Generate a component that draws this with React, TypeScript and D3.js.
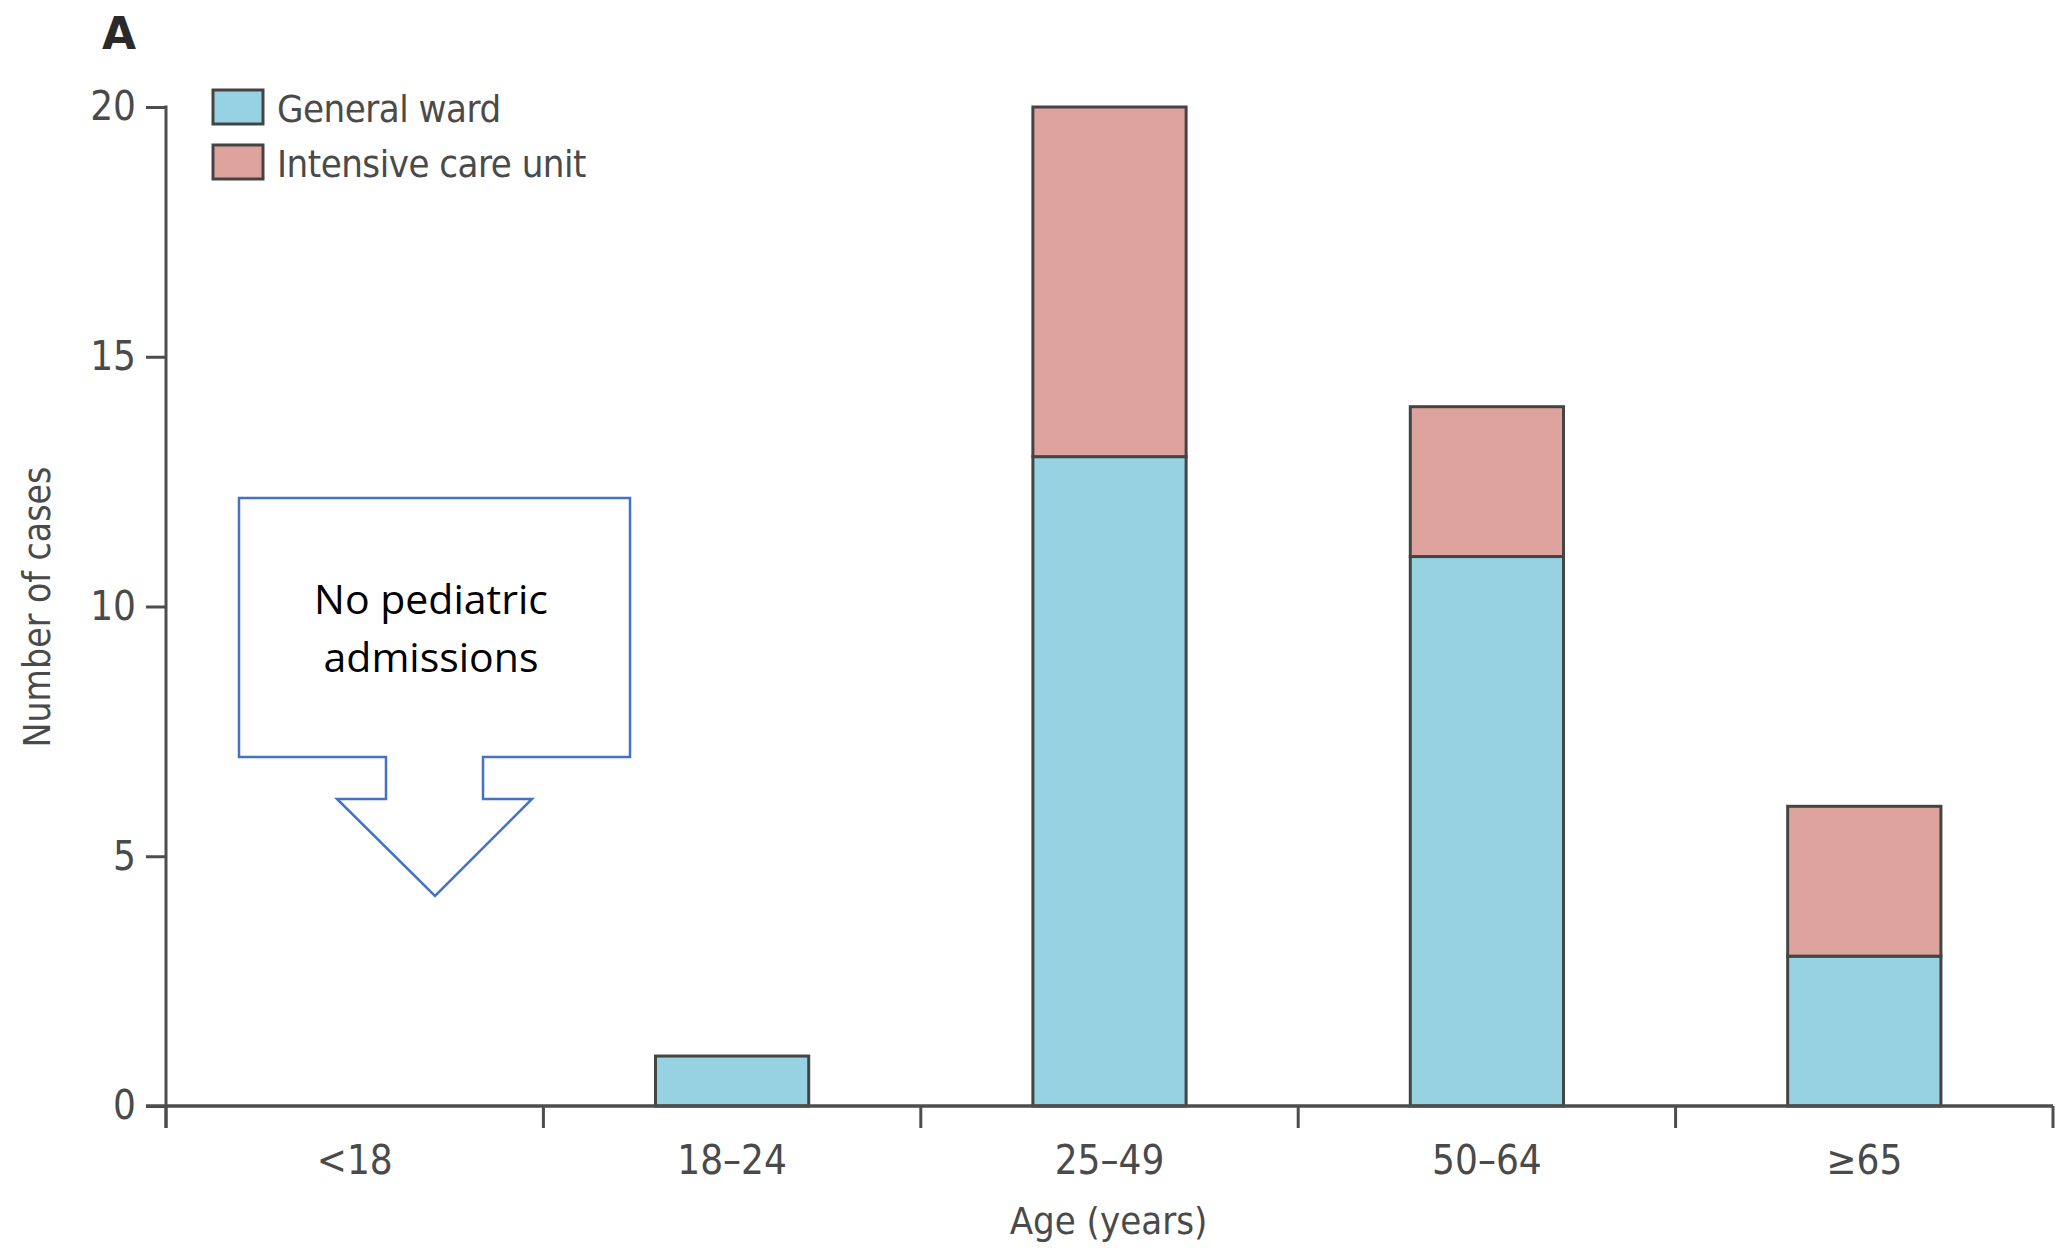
import { useEffect, useRef } from 'react';
import * as d3 from 'd3';

const ageGroups = ['<18', '18–24', '25–49', '50–64', '≥65'];
const generalWard = [0, 1, 13, 11, 3];
const intensiveCare = [0, 0, 7, 3, 3];
const yTicks = [0, 5, 10, 15, 20];
const seriesNames = ['General ward', 'Intensive care unit'];
const seriesColors = ['#96d2e2', '#dea39d'];

const FONT = '"Liberation Sans Narrow", "DejaVu Sans Condensed", "DejaVu Sans", sans-serif';

export default function App() {
  const svgRef = useRef<SVGSVGElement>(null);

  useEffect(() => {
    const svg = d3.select(svgRef.current);
    svg.selectAll('*').remove();

    const width = 2070;
    const height = 1248;
    const margin = { top: 107, right: 17, bottom: 142, left: 166 };
    const innerWidth = width - margin.left - margin.right;
    const innerHeight = height - margin.top - margin.bottom;

    svg.append('rect').attr('width', width).attr('height', height).attr('fill', '#fff');

    const g = svg.append('g').attr('transform', `translate(${margin.left},${margin.top})`);

    const x = d3.scaleBand<string>()
      .domain(ageGroups)
      .range([0, innerWidth])
      .paddingInner(0.594)
      .paddingOuter(0.297);

    const y = d3.scaleLinear().domain([0, 20]).range([innerHeight, 0]);

    const rows = ageGroups.map((a, i) => ({ age: a, general: generalWard[i], icu: intensiveCare[i] }));
    const stacked = d3.stack<any>().keys(['general', 'icu'])(rows);

    const axisColor = '#4d4d4d';
    const textColor = '#4a4a4a';

    stacked.forEach((layer, li) => {
      g.append('g')
        .selectAll('rect')
        .data(layer.filter(d => d[1] - d[0] > 0))
        .join('rect')
        .attr('x', d => x(d.data.age)!)
        .attr('y', d => y(d[1]))
        .attr('width', x.bandwidth())
        .attr('height', d => y(d[0]) - y(d[1]))
        .attr('fill', seriesColors[li])
        .attr('stroke', '#444')
        .attr('stroke-width', 3);
    });

    // y axis
    const yAxis = g.append('g')
      .call(d3.axisLeft(y).tickValues(yTicks).tickSize(20).tickPadding(10));
    yAxis.select('.domain').remove();
    yAxis.selectAll('line').attr('stroke', axisColor).attr('stroke-width', 3);
    yAxis.selectAll('text')
      .style('font-family', FONT)
      .style('font-size', '40px')
      .attr('fill', textColor);
    g.append('line')
      .attr('x1', 0).attr('x2', 0)
      .attr('y1', y(20) - 1.5).attr('y2', innerHeight + 22)
      .attr('stroke', axisColor).attr('stroke-width', 3);

    // x axis
    g.append('line')
      .attr('x1', -20).attr('x2', innerWidth)
      .attr('y1', innerHeight).attr('y2', innerHeight)
      .attr('stroke', axisColor).attr('stroke-width', 3.5);
    const step = x.step();
    const edges = d3.range(ageGroups.length + 1).map(i => i * step);
    g.selectAll('.xtick')
      .data(edges)
      .join('line')
      .attr('class', 'xtick')
      .attr('x1', d => d).attr('x2', d => d)
      .attr('y1', innerHeight).attr('y2', innerHeight + 22)
      .attr('stroke', axisColor).attr('stroke-width', 3);
    g.selectAll('.xlabel')
      .data(ageGroups)
      .join('text')
      .attr('class', 'xlabel')
      .attr('x', d => x(d)! + x.bandwidth() / 2)
      .attr('y', innerHeight + 68)
      .attr('text-anchor', 'middle')
      .style('font-family', FONT)
      .style('font-size', '40px')
      .attr('fill', textColor)
      .text(d => d);

    svg.append('text')
      .attr('x', margin.left + innerWidth / 2 - 1)
      .attr('y', 1234)
      .attr('text-anchor', 'middle')
      .style('font-family', FONT)
      .style('font-size', '38px')
      .attr('fill', textColor)
      .text('Age (years)');

    svg.append('text')
      .attr('transform', `translate(50, ${607}) rotate(-90)`)
      .attr('text-anchor', 'middle')
      .style('font-family', FONT)
      .style('font-size', '37px')
      .attr('fill', textColor)
      .text('Number of cases');

    // panel letter
    svg.append('text')
      .attr('x', 102)
      .attr('y', 49)
      .style('font-family', '"DejaVu Sans", sans-serif')
      .style('font-weight', 'bold')
      .style('font-size', '44px')
      .attr('fill', '#2a2a2a')
      .text('A');

    // legend
    seriesNames.forEach((name, i) => {
      const ly = 90 + i * 55;
      svg.append('rect')
        .attr('x', 213).attr('y', ly)
        .attr('width', 50).attr('height', 34)
        .attr('fill', seriesColors[i])
        .attr('stroke', '#444').attr('stroke-width', 3);
      svg.append('text')
        .attr('x', 277).attr('y', ly + 32)
        .style('font-family', FONT)
        .style('font-size', '38px')
        .style('letter-spacing', '-0.5px')
        .attr('fill', textColor)
        .text(name);
    });

    // callout arrow
    const callout: [number, number][] = [
      [239, 498], [630, 498], [630, 757], [483, 757], [483, 799], [532, 799],
      [435, 896], [337, 799], [386, 799], [386, 757], [239, 757]
    ];
    svg.append('path')
      .attr('d', d3.line()(callout) + 'Z')
      .attr('fill', '#fff')
      .attr('stroke', '#4472c4')
      .attr('stroke-width', 2.5);
    ['No pediatric', 'admissions'].forEach((t, i) => {
      svg.append('text')
        .attr('x', 431)
        .attr('y', 614 + i * 58)
        .attr('text-anchor', 'middle')
        .style('font-family', '"Open Sans", sans-serif')
        .style('font-size', '41px')
        .attr('fill', '#000')
        .text(t);
    });
  }, []);

  return (
    <svg
      ref={svgRef}
      width={2070}
      height={1248}
      style={{ position: 'absolute', left: 0, top: 0 }}
    />
  );
}
